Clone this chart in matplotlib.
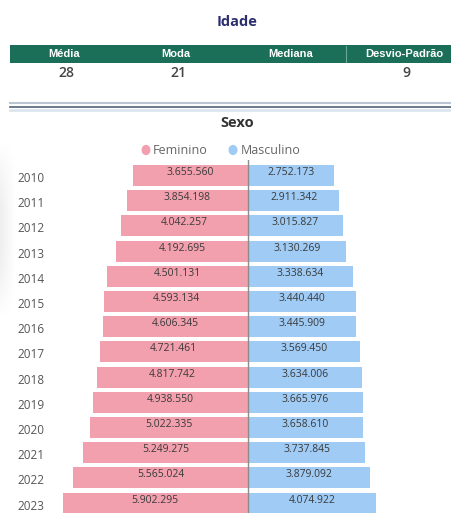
import matplotlib
matplotlib.use("Agg")
import matplotlib.pyplot as plt
import numpy as np
from matplotlib.patches import Rectangle, Circle
from matplotlib.lines import Line2D

years = ["2010", "2011", "2012", "2013", "2014", "2015", "2016",
         "2017", "2018", "2019", "2020", "2021", "2022", "2023"]
feminino = [3655560, 3854198, 4042257, 4192695, 4501131, 4593134, 4606345,
            4721461, 4817742, 4938550, 5022335, 5249275, 5565024, 5902295]
masculino = [2752173, 2911342, 3015827, 3130269, 3338634, 3440440, 3445909,
             3569450, 3634006, 3665976, 3658610, 3737845, 3879092, 4074922]

idade_cols = ["Média", "Moda", "Mediana", "Desvio-Padrão"]
idade_vals = ["28", "21", "", "9"]

W, H = 451, 513
PINK = "#F2A0AE"
BLUE = "#9FCBF5"
GREEN = "#1b6e58"
FONT = "Open Sans"

fig = plt.figure(figsize=(W / 100, H / 100), dpi=100)
fig.patch.set_facecolor("white")


def fx(px):
    return px / W


def fy(py):
    return 1 - py / H


# ---- Idade card ----
fig.text(fx(237), fy(22), "Idade", ha="center", va="center", fontsize=10.5,
         fontweight="bold", color="#2c2f6e", family=FONT)
fig.patches.append(Rectangle((fx(10), fy(63)), fx(441), 18 / H, transform=fig.transFigure,
                             facecolor=GREEN, edgecolor="none", zorder=1))
fig.lines.append(Line2D([fx(346), fx(346)], [fy(62), fy(46)], transform=fig.transFigure,
                        color="#6aa797", lw=0.8, zorder=2))
col_x = [64, 176, 291, 404]
for cx, name, val in zip(col_x, idade_cols, idade_vals):
    fig.text(fx(cx), fy(54), name, ha="center", va="center", fontsize=8,
             fontweight="bold", color="white", family="Liberation Sans", zorder=3)
    if val:
        fig.text(fx(cx + 2), fy(73), val, ha="center", va="center", fontsize=10,
                 fontweight="semibold", color="#444444", family=FONT)

# card border / shadow
fig.lines.append(Line2D([fx(10), 1], [fy(103), fy(103)], transform=fig.transFigure,
                        color="#b9c6d2", lw=1.5))
fig.lines.append(Line2D([fx(10), 1], [fy(107), fy(107)], transform=fig.transFigure,
                        color="#4f6577", lw=1.2))
fig.lines.append(Line2D([fx(10), 1], [fy(110), fy(110)], transform=fig.transFigure,
                        color="#dde6ee", lw=2))

# faint shadow on the left edge
sh = fig.add_axes([0, fy(320), fx(16), (320 - 140) / H])
gx = np.linspace(0.0, 1.0, 32)[None, :]
gy = np.sin(np.linspace(0, np.pi, 64))[:, None]
grad = 1 - 0.07 * (1 - gx) * gy
sh.imshow(grad, aspect="auto", cmap="gray", vmin=0, vmax=1, extent=(0, 1, 0, 1))
sh.axis("off")

# ---- Sexo chart ----
fig.text(fx(237), fy(123), "Sexo", ha="center", va="center", fontsize=10.5,
         fontweight="bold", color="#333333", family=FONT)
fig.patches.append(Circle((fx(146), fy(150)), 4.5 / W, transform=fig.transFigure,
                          facecolor=PINK, edgecolor="none"))
fig.text(fx(153), fy(150), "Feminino", ha="left", va="center", fontsize=9,
         color="#666666", family=FONT)
fig.patches.append(Circle((fx(233), fy(150)), 4.5 / W, transform=fig.transFigure,
                          facecolor=BLUE, edgecolor="none"))
fig.text(fx(241), fy(150), "Masculino", ha="left", va="center", fontsize=9,
         color="#666666", family=FONT)

scale = 31.4 / 1e6  # px per person
center_px = 248
pitch = 25.2
y0 = 175.5
top_px = 160
ax = fig.add_axes([0, 0, 1, fy(top_px)])
ax.set_xlim(-center_px / scale, (W - center_px) / scale)
ax.set_ylim((H - y0) / pitch, (top_px - y0) / pitch)
ax.axis("off")

pos = list(range(len(years)))
ax.barh(pos, [-v for v in feminino], height=0.83, color=PINK, edgecolor="none")
ax.barh(pos, masculino, height=0.83, color=BLUE, edgecolor="none")
ax.axvline(0, color="#8c8c8c", lw=1.0)


def fmt(v):
    return f"{v:,}".replace(",", ".")


for i, (y, f, m) in enumerate(zip(years, feminino, masculino)):
    ax.text(-f / 2, i - 0.12, fmt(f), ha="center", va="center", fontsize=7.5,
            color="#3a3a3a", family=FONT)
    ax.text(m / 2, i - 0.12, fmt(m), ha="center", va="center", fontsize=7.5,
            color="#3a3a3a", family=FONT)
    ax.text(fx(17), i + 0.12, y, transform=ax.get_yaxis_transform(), ha="left",
            va="center", fontsize=8.5, color="#555555", family=FONT)

fig.savefig("out.png", dpi=100)
